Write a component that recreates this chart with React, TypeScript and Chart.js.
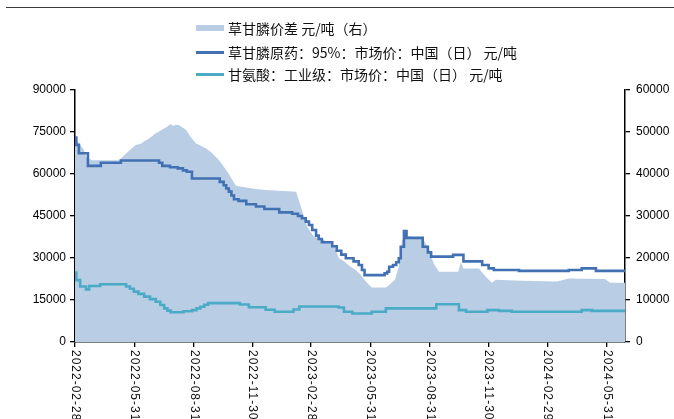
import React, { useEffect, useRef } from "react";
import { Chart, registerables } from "chart.js";

Chart.register(...registerables);

// ---------- data ----------
const START = "2022-02-28";
const END = "2024-06-28";

const seriesNames = [
  "草甘膦价差 元/吨（右）",
  "草甘膦原药：95%：市场价：中国（日） 元/吨",
  "甘氨酸：工业级：市场价：中国（日） 元/吨",
];

const xTickLabels = [
  "2022-02-28", "2022-05-31", "2022-08-31", "2022-11-30", "2023-02-28",
  "2023-05-31", "2023-08-31", "2023-11-30", "2024-02-29", "2024-05-31",
];

// 草甘膦价差 (right axis)
const spreadDates = [
  "2022-02-28", "2022-03-02", "2022-03-06", "2022-03-14", "2022-03-17", "2022-03-26",
  "2022-05-07", "2022-05-18", "2022-06-02", "2022-06-10", "2022-06-15", "2022-06-20",
  "2022-06-27", "2022-07-01", "2022-07-08", "2022-07-15", "2022-07-20", "2022-07-26",
  "2022-07-30", "2022-08-03", "2022-08-08", "2022-08-15", "2022-08-19", "2022-08-26",
  "2022-09-03", "2022-09-12", "2022-09-19", "2022-09-28", "2022-10-09", "2022-10-16",
  "2022-10-24", "2022-11-04", "2022-11-10", "2022-11-20", "2022-12-05", "2022-12-20",
  "2023-01-10", "2023-02-05", "2023-02-12", "2023-02-22", "2023-03-05", "2023-03-17",
  "2023-04-05", "2023-04-12", "2023-04-20", "2023-04-28", "2023-05-09", "2023-05-16",
  "2023-05-24", "2023-06-02", "2023-06-24", "2023-06-29", "2023-07-08", "2023-07-14",
  "2023-07-19", "2023-07-27", "2023-08-20", "2023-08-30", "2023-09-06", "2023-09-14",
  "2023-10-14", "2023-10-18", "2023-10-22", "2023-11-15", "2023-11-26", "2023-12-05",
  "2023-12-11", "2024-01-20", "2024-03-15", "2024-04-02", "2024-05-28", "2024-06-05",
  "2024-06-28",
];
const spreadValues = [
  48900, 48000, 47300, 45700, 44100, 43300,
  43300, 44900, 46900, 47200, 47800, 48200,
  48900, 49500, 50100, 50800, 51200, 51900,
  51400, 51700, 51600, 50900, 50500, 48800,
  47300, 46600, 46100, 45000, 43300, 41800,
  40000, 37200, 37000, 36800, 36400, 36200,
  36000, 35800, 32500, 27500, 25000, 24500,
  23000, 20000, 19200, 18200, 17000, 16000,
  14400, 13000, 13000, 13600, 14800, 17900,
  24300, 25200, 24800, 21900, 18700, 16700,
  16700, 19000, 17500, 17500, 15500, 14100,
  14800, 14600, 14400, 15100, 15000, 14100,
  14100,
];

// 草甘膦原药 95% (left axis)
const glyphosateDates = [
  "2022-02-28", "2022-03-02", "2022-03-06", "2022-03-20", "2022-04-09", "2022-05-10",
  "2022-07-08", "2022-07-13", "2022-07-25", "2022-08-06", "2022-08-14", "2022-08-20",
  "2022-08-28", "2022-10-10", "2022-10-16", "2022-10-20", "2022-10-24", "2022-10-28",
  "2022-11-01", "2022-11-08", "2022-11-20", "2022-12-05", "2022-12-18", "2023-01-10",
  "2023-01-30", "2023-02-08", "2023-02-14", "2023-02-20", "2023-02-25", "2023-03-02",
  "2023-03-08", "2023-03-12", "2023-03-17", "2023-04-02", "2023-04-09", "2023-04-16",
  "2023-04-23", "2023-05-05", "2023-05-13", "2023-05-18", "2023-05-22", "2023-06-22",
  "2023-06-26", "2023-06-29", "2023-07-05", "2023-07-10", "2023-07-14", "2023-07-17",
  "2023-07-22", "2023-07-26", "2023-08-20", "2023-08-28", "2023-09-02", "2023-10-06",
  "2023-10-22", "2023-11-20", "2023-11-30", "2023-12-08", "2024-01-16", "2024-04-02",
  "2024-04-22", "2024-05-14", "2024-06-28",
];
const glyphosateValues = [
  73000, 70400, 67400, 62900, 64000, 64800,
  64000, 62900, 62400, 62000, 61300, 60800,
  58400, 57200, 56000, 54800, 53700, 52300,
  51000, 50400, 49200, 48400, 47500, 46300,
  45800, 45000, 44200, 43000, 41800, 40000,
  38000, 36800, 35600, 34200, 32600, 31200,
  29900, 28800, 27500, 25700, 23900, 24500,
  25100, 26900, 27500, 28500, 29900, 34000,
  39600, 37200, 34000, 32000, 30500, 31100,
  28800, 27500, 26300, 25700, 25400, 25700,
  26300, 25400, 25400,
];

// 甘氨酸 工业级 (left axis)
const glycineDates = [
  "2022-02-28", "2022-03-02", "2022-03-08", "2022-03-17", "2022-03-22", "2022-04-08",
  "2022-05-18", "2022-05-24", "2022-05-30", "2022-06-06", "2022-06-15", "2022-06-24",
  "2022-07-03", "2022-07-10", "2022-07-16", "2022-07-21", "2022-07-26", "2022-08-15",
  "2022-08-28", "2022-09-04", "2022-09-10", "2022-09-16", "2022-09-22", "2022-11-10",
  "2022-11-24", "2022-12-20", "2023-01-03", "2023-02-01", "2023-02-10", "2023-04-12",
  "2023-04-20", "2023-05-03", "2023-06-02", "2023-06-24", "2023-09-10", "2023-10-15",
  "2023-10-26", "2023-11-28", "2023-12-16", "2024-01-05", "2024-04-22", "2024-05-08",
  "2024-06-28",
];
const glycineValues = [
  24800, 22100, 19800, 18800, 20000, 20600,
  19800, 19000, 18000, 17200, 16200, 15300,
  14400, 13200, 12000, 11200, 10600, 11000,
  11400, 12000, 12600, 13300, 13900, 13400,
  12400, 11500, 10800, 11600, 12700, 12300,
  10800, 10200, 10800, 12000, 13500, 11400,
  10800, 11400, 11100, 10800, 11400, 11100,
  11100,
];

const colors = {
  spread: "#b9cde5",
  glyphosate: "#4271b3",
  glycine: "#4aabc6",
};

// ---------- helpers ----------
const DAY = 86400000;
const dayOf = (d: string) => (Date.parse(d + "T00:00:00Z") - Date.parse(START + "T00:00:00Z")) / DAY;
const toPoints = (dates: string[], values: number[]) =>
  dates.map((d, i) => ({ x: dayOf(d), y: values[i] }));

const xLabelPlugin = {
  id: "xLabelsRotated",
  afterDraw(chart: any) {
    const scale = chart.scales.x;
    const ctx = chart.ctx;
    ctx.save();
    ctx.fillStyle = "#111";
    ctx.font = '12px "Liberation Sans", Arial, sans-serif';
    try { (ctx as any).letterSpacing = "1px"; } catch (e) {}
    ctx.textAlign = "left";
    ctx.textBaseline = "middle";
    xTickLabels.forEach((lab) => {
      const px = scale.getPixelForValue(dayOf(lab));
      ctx.save();
      ctx.translate(px, chart.chartArea.bottom + 8);
      ctx.rotate(Math.PI / 2);
      ctx.fillText(lab, 0, 0);
      ctx.restore();
    });
    ctx.restore();
  },
};

export default function App() {
  const ref = useRef<HTMLCanvasElement | null>(null);

  useEffect(() => {
    if (!ref.current) return;
    const tickFont = { family: '"Liberation Sans", Arial, sans-serif', size: 12 };
    const plain = (v: any) => String(v);
    const axisGrid = {
      display: true,
      drawOnChartArea: false,
      drawTicks: true,
      tickLength: 5,
      color: "#000",
      lineWidth: 1.3,
    };
    const axisBorder = { display: true, color: "#000", width: 1.5 };
    const chart = new Chart(ref.current, {
      type: "line",
      data: {
        datasets: [
          {
            label: seriesNames[0],
            data: toPoints(spreadDates, spreadValues),
            yAxisID: "y1",
            borderWidth: 0,
            borderColor: colors.spread,
            backgroundColor: colors.spread,
            fill: "origin",
            pointRadius: 0,
            tension: 0,
            order: 3,
          },
          {
            label: seriesNames[1],
            data: toPoints(glyphosateDates, glyphosateValues),
            yAxisID: "y",
            borderColor: colors.glyphosate,
            backgroundColor: colors.glyphosate,
            borderWidth: 2.6,
            pointRadius: 0,
            stepped: "before",
            fill: false,
            order: 1,
          },
          {
            label: seriesNames[2],
            data: toPoints(glycineDates, glycineValues),
            yAxisID: "y",
            borderColor: colors.glycine,
            backgroundColor: colors.glycine,
            borderWidth: 2.6,
            pointRadius: 0,
            stepped: "before",
            fill: false,
            order: 2,
          },
        ],
      },
      options: {
        animation: false,
        responsive: true,
        maintainAspectRatio: false,
        layout: { padding: { top: 90, left: 0, right: 0, bottom: 0 } },
        plugins: {
          legend: { display: false },
          tooltip: { enabled: false },
        },
        scales: {
          x: {
            type: "linear",
            min: 0,
            max: dayOf(END),
            afterBuildTicks: (s: any) => {
              s.ticks = xTickLabels.map((d) => ({ value: dayOf(d) }));
            },
            afterFit: (s: any) => {
              s.height = 77;
            },
            ticks: { display: false },
            grid: axisGrid,
            border: axisBorder,
          },
          y: {
            position: "left",
            min: 0,
            max: 90000,
            afterFit: (s: any) => {
              s.width = 75;
            },
            ticks: { stepSize: 15000, color: "#000", font: tickFont, padding: 4, callback: plain },
            grid: axisGrid,
            border: axisBorder,
          },
          y1: {
            position: "right",
            min: 0,
            max: 60000,
            afterFit: (s: any) => {
              s.width = 49;
            },
            ticks: { stepSize: 10000, color: "#000", font: tickFont, padding: 6, callback: plain },
            grid: axisGrid,
            border: axisBorder,
          },
        },
      },
      plugins: [xLabelPlugin],
    } as any);
    return () => chart.destroy();
  }, []);

  const legendFont = '"Noto Sans CJK SC", "Noto Sans", sans-serif';
  const rows = [
    { top: 18, kind: "box", color: colors.spread, text: seriesNames[0] },
    { top: 42, kind: "line", color: colors.glyphosate, text: seriesNames[1] },
    { top: 64, kind: "line", color: colors.glycine, text: seriesNames[2] },
  ];

  return (
    <div
      style={{
        position: "fixed",
        left: 0,
        top: 0,
        width: 674,
        height: 419,
        background: "#fff",
        overflow: "hidden",
      }}
    >
      <canvas ref={ref} style={{ position: "absolute", left: 0, top: 0 }} />
      <div
        style={{
          position: "absolute",
          left: 6,
          top: 7,
          width: 668,
          height: 0,
          borderTop: "1.5px solid #3a3a3a",
        }}
      />
      {rows.map((r, i) => (
        <div
          key={i}
          style={{
            position: "absolute",
            left: 196,
            top: r.top,
            height: 20,
            display: "flex",
            alignItems: "center",
            whiteSpace: "nowrap",
            fontFamily: legendFont,
            fontSize: 14,
            lineHeight: "20px",
            color: "#111",
          }}
        >
          <span
            style={{
              display: "inline-block",
              width: 28,
              height: r.kind === "box" ? 6 : 3,
              background: r.color,
              marginRight: 4,
            }}
          />
          <span>{r.text}</span>
        </div>
      ))}
    </div>
  );
}
